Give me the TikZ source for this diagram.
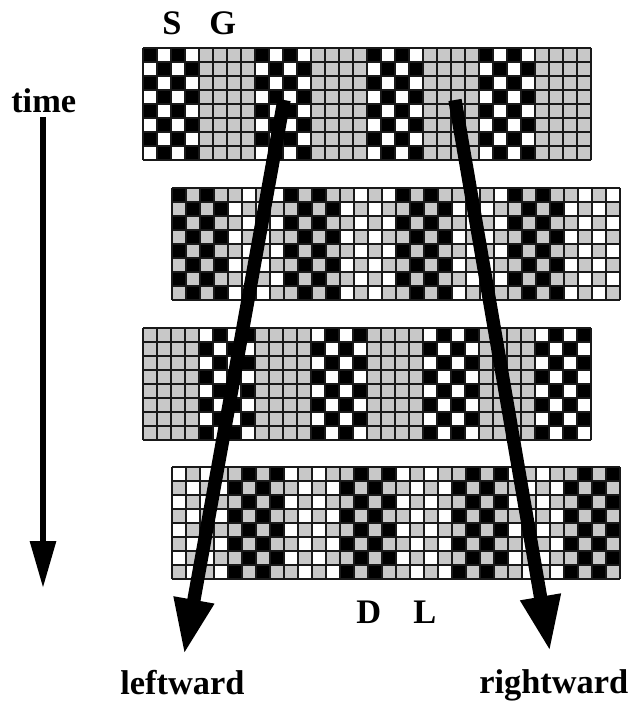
\documentclass[tikz,border=0pt]{standalone}
\usepackage{fontspec}
\setmainfont{Liberation Serif}
\usetikzlibrary{arrows.meta}
\definecolor{cellgray}{RGB}{200,200,200}
\tikzset{
  gridline/.style={draw=black!90, line width=0.85pt},
  lbl/.style={font=\fontsize{25.8}{30}\selectfont\bfseries, inner sep=0pt, anchor=base west},
  timearrow/.style={line width=4.5pt, -{Triangle[width=18.75pt,length=35.25pt]}},
  bigarrow/.style={line width=10pt, -{Triangle[width=28pt,length=42pt]}}
}
\newcommand\drawband[6]{%
  \foreach \c in {0,...,31}{%
    \foreach \r in {0,...,7}{%
      \pgfmathtruncatemacro\idx{2*(mod(\c,8)>3)+mod(\c+\r,2)}%
      \ifcase\idx\def\cc{#3}\or\def\cc{#4}\or\def\cc{#5}\or\def\cc{#6}\fi
      \fill[fill=\cc] ({#1+14*\c},{#2+14*\r}) rectangle ++(14,14);
    }}%
  \foreach \c in {0,...,32}{\draw[gridline] ({#1+14*\c},#2) -- ++(0,112);}
  \foreach \r in {0,...,8}{\draw[gridline] (#1,{#2+14*\r}) -- ++(448,0);}
}
\begin{document}
\begin{tikzpicture}[x=0.75pt,y=-0.75pt]
\useasboundingbox (0,0) rectangle (631,702);
% bands
\drawband{143}{48}{black}{white}{cellgray}{cellgray}
\drawband{172}{188}{black}{cellgray}{cellgray}{white}
\drawband{143}{328}{cellgray}{cellgray}{white}{black}
\drawband{172}{467}{white}{cellgray}{cellgray}{black}
% labels
\node[lbl] (S) at (162,35) {S};
\node[lbl] (G) at (209,35) {G};
\node[lbl] (time) at (11,113) {time};
\node[lbl] (D) at (356,623) {D};
\node[lbl] (L) at (413,623) {L};
\node[lbl] (left) at (120,694) {leftward};
\node[lbl] (right) at (479,693) {rightward};
% arrows
\coordinate (ts) at (43,117);
\coordinate (te) at (43,588);
\draw[timearrow] (ts) -- (te);
\coordinate (ls) at (284,100);
\coordinate (le) at (184,655);
\draw[bigarrow] (ls) -- (le);
\coordinate (rs) at (455,100);
\coordinate (re) at (550,652);
\draw[bigarrow] (rs) -- (re);
\end{tikzpicture}
\end{document}
